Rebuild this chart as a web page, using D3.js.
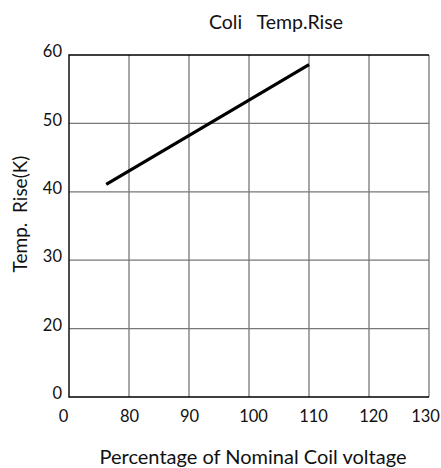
<!DOCTYPE html>
<html>
<head>
<meta charset="utf-8">
<script src="https://cdn.jsdelivr.net/npm/d3@7"></script>
<style>
  body { margin: 0; background: #fff; }
  svg { display: block; font-family: Lato, "Open Sans", sans-serif; }
</style>
</head>
<body>
<div id="chart"></div>
<script>
const width = 441;
const height = 468;
const margin = { top: 55, right: 12, bottom: 71, left: 69 };

// curve
const voltage = [76.2, 100, 110];
const tempRise = [41.1, 53.4, 58.6];

// ticks: the axes start with a broken "0" label
const xTicks = [70, 80, 90, 100, 110, 120, 130];
const xTickLabels = ["0", "80", "90", "100", "110", "120", "130"];
const yTicks = [10, 20, 30, 40, 50, 60];
const yTickLabels = ["0", "20", "30", "40", "50", "60"];

const points = voltage.map((v, i) => ({ v, t: tempRise[i] }));

const svg = d3.select("#chart").append("svg")
  .attr("width", width)
  .attr("height", height);

const x = d3.scaleLinear().domain([70, 130]).range([margin.left, width - margin.right]);
const y = d3.scaleLinear().domain([10, 60]).range([height - margin.bottom, margin.top]);

// grid
svg.append("g")
  .selectAll("line")
  .data(xTicks.slice(1))
  .join("line")
  .attr("x1", d => x(d)).attr("x2", d => x(d))
  .attr("y1", y(10)).attr("y2", y(60))
  .attr("stroke", "#777")
  .attr("stroke-width", 1.3);

svg.append("g")
  .selectAll("line")
  .data(yTicks.slice(1, -1))
  .join("line")
  .attr("x1", x(70)).attr("x2", x(130))
  .attr("y1", d => y(d)).attr("y2", d => y(d))
  .attr("stroke", "#777")
  .attr("stroke-width", 1.3);

// frame: left, top, bottom in black
svg.append("path")
  .attr("d", `M${x(130)},${y(60)}H${x(70)}V${y(10)}H${x(130)}`)
  .attr("fill", "none")
  .attr("stroke", "#000")
  .attr("stroke-width", 1.4);

// axes labels via d3 axes, lines hidden
const xAxis = svg.append("g")
  .attr("transform", `translate(0,${y(10)})`)
  .call(d3.axisBottom(x).tickValues(xTicks).tickSize(0).tickPadding(13)
    .tickFormat((d, i) => xTickLabels[i]));
xAxis.select(".domain").remove();
xAxis.selectAll("text")
  .style("font-family", "Lato, sans-serif")
  .style("font-size", "16.5px")
  .attr("fill", "#111")
  .attr("dx", (d, i) => i === 0 ? -6 : i === xTicks.length - 1 ? -4 : i >= 3 ? 4 : 0);

const yAxis = svg.append("g")
  .attr("transform", `translate(${x(70)},0)`)
  .call(d3.axisLeft(y).tickValues(yTicks).tickSize(0).tickPadding(7)
    .tickFormat((d, i) => yTickLabels[i]));
yAxis.select(".domain").remove();
yAxis.selectAll("text")
  .style("font-family", "Lato, sans-serif")
  .style("font-size", "16.5px")
  .attr("fill", "#111")
  .attr("dy", "0.1em");

// curve
svg.append("path")
  .datum(points)
  .attr("fill", "none")
  .attr("stroke", "#000")
  .attr("stroke-width", 3.2)
  .attr("d", d3.line().x(d => x(d.v)).y(d => y(d.t)));

// titles
svg.append("text")
  .attr("x", 276)
  .attr("y", 29)
  .attr("text-anchor", "middle")
  .style("font-size", "19.5px")
  .attr("fill", "#111")
  .attr("xml:space", "preserve")
  .text("Coli   Temp.Rise");

svg.append("text")
  .attr("x", 253)
  .attr("y", 464)
  .attr("text-anchor", "middle")
  .style("font-size", "20px")
  .attr("fill", "#111")
  .text("Percentage of Nominal Coil voltage");

svg.append("text")
  .attr("transform", `translate(27,214) rotate(-90)`)
  .attr("text-anchor", "middle")
  .style("font-size", "19px")
  .attr("fill", "#111")
  .attr("xml:space", "preserve")
  .text("Temp.  Rise(K)");
</script>
</body>
</html>
